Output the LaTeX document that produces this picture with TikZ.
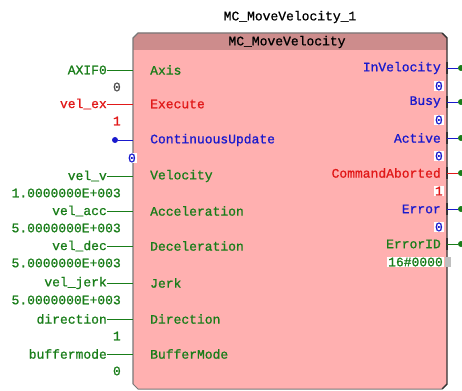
\documentclass[tikz,border=0pt]{standalone}
\usepackage{fontspec}
\setmainfont{Liberation Mono}[FakeBold=1]
\definecolor{fbFill}{RGB}{255,176,176}
\definecolor{fbHead}{RGB}{205,140,140}
\definecolor{sigGreen}{RGB}{25,125,25}
\definecolor{sigBlue}{RGB}{25,25,205}
\definecolor{sigRed}{RGB}{225,25,25}
\definecolor{edgeGray}{RGB}{120,120,120}
\begin{document}
\begin{tikzpicture}[x=1pt,y=-1pt,
  every node/.style={font=\fontsize{13}{14}\selectfont, inner sep=0pt},
  pinin/.style={anchor=west},
  pinout/.style={anchor=east},
  varname/.style={anchor=east},
  varval/.style={anchor=east},
  liveval/.style={anchor=east, fill=white, inner xsep=1pt, inner ysep=1pt},
  wire/.style={line width=0.8pt},
  outdot/.style={circle, fill=sigGreen, minimum size=6pt}]
\useasboundingbox (0,0) rectangle (462,390);
%
% function block body
\fill[fbFill] (133,38) -- (138,33) -- (442,33) -- (447,38) -- (447,384) -- (442,389) -- (138,389) -- (133,384) -- cycle;
\fill[fbHead] (133,50) -- (133,38) -- (138,33) -- (442,33) -- (447,38) -- (447,50) -- cycle;
\draw[edgeGray, line width=1.2pt] (133,384) -- (133,38) -- (138,33) -- (442,33);
\draw[black!80, line width=1.4pt] (442,33) -- (447,38) -- (447,384) -- (442,389);
\draw[edgeGray, line width=1pt] (442,389) -- (138,389) -- (133,384);
%
\node (inst) at (290,17) {MC\_MoveVelocity\_1};
\node (type) at (287,42) {MC\_MoveVelocity};
%
% inputs with a variable
\foreach \y/\pin/\var/\val/\col/\vcol [count=\i] in {
  70/Axis/AXIF0/0/sigGreen/black!70,
  104/Execute/vel\_ex/1/sigRed/sigRed,
  176/Velocity/vel\_v/1.0000000E+003/sigGreen/sigGreen,
  211/Acceleration/vel\_acc/5.0000000E+003/sigGreen/sigGreen,
  246/Deceleration/vel\_dec/5.0000000E+003/sigGreen/sigGreen,
  283/Jerk/vel\_jerk/5.0000000E+003/sigGreen/sigGreen,
  319/Direction/direction/1/sigGreen/sigGreen,
  354/BufferMode/buffermode/0/sigGreen/sigGreen}{
  \node[pinin, text=\col] (in\i) at (150,\y) {\pin};
  \node[varname, text=\col] (var\i) at (107,\y) {\var};
  \node[varval, text=\vcol] (val\i) at (121,\y+17) {\val};
  \coordinate (ie\i) at (133,\y);
  \draw[wire, \col] (var\i) -- (ie\i);
}
%
% ContinuousUpdate has no variable
\node[pinin, text=sigBlue] (incu) at (150,140) {ContinuousUpdate};
\node[circle, fill=sigBlue, minimum size=6pt] (cudot) at (115,140) {};
\coordinate (iecu) at (133,140);
\draw[wire, sigBlue] (cudot) -- (iecu);
\node[liveval, text=sigBlue] (valcu) at (137,158) {0};
%
% outputs
\foreach \y/\pin/\val/\col [count=\i] in {
  68/InVelocity/0/sigBlue,
  102/Busy/0/sigBlue,
  138/Active/0/sigBlue,
  173/CommandAborted/1/sigRed,
  209/Error/0/sigBlue,
  244/ErrorID/16\#0000/sigGreen}{
  \node[pinout, text=\col] (out\i) at (441,\y) {\pin};
  \node[liveval, text=\col] (oval\i) at (444,\y+18) {\val};
  \draw[black!80, line width=1.6pt] (447,\y-6) -- (447,\y+6);
  \coordinate (oe\i) at (447,\y);
  \node[outdot] (odot\i) at (461,\y) {};
  \draw[wire, \col] (oe\i) -- (odot\i);
}
\fill[gray!50] (445,257) rectangle (451,267);
\end{tikzpicture}
\end{document}
